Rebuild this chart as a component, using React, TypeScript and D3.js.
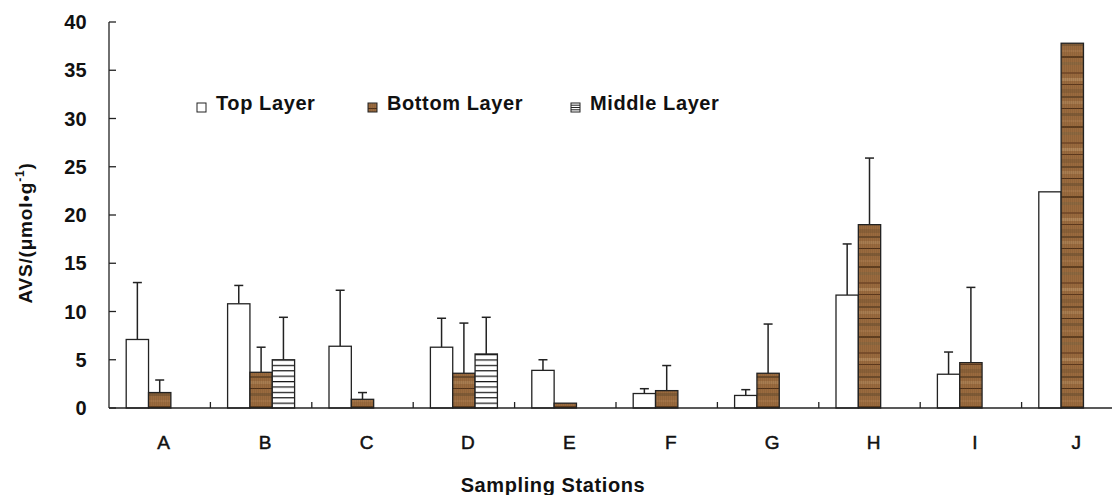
import { useRef, useEffect } from "react";
import * as d3 from "d3";

const categories = ["A", "B", "C", "D", "E", "F", "G", "H", "I", "J"];
const seriesNames = ["Top Layer", "Bottom Layer", "Middle Layer"];
const topLayer = [7.1, 10.8, 6.4, 6.3, 3.9, 1.5, 1.3, 11.7, 3.5, 22.4];
const topErr = [5.9, 1.9, 5.8, 3.0, 1.1, 0.5, 0.6, 5.3, 2.3, null];
const bottomLayer = [1.6, 3.7, 0.9, 3.6, 0.5, 1.8, 3.6, 19.0, 4.7, 37.8];
const bottomErr = [1.3, 2.6, 0.7, 5.2, null, 2.6, 5.1, 6.9, 7.8, null];
const middleLayer = [null, 5.0, null, 5.6, null, null, null, null, null, null];
const middleErr = [null, 4.4, null, 3.8, null, null, null, null, null, null];
const yTicks = [0, 5, 10, 15, 20, 25, 30, 35, 40];

type Bar = { cat: string; series: string; value: number; err: number | null };

export default function App() {
  const svgRef = useRef<SVGSVGElement>(null);
  const width = 1112;
  const height = 495;

  useEffect(() => {
    if (!svgRef.current) return;
    const svg = d3.select(svgRef.current);
    svg.selectAll("*").remove();

    const font = "'Liberation Sans', Arial, sans-serif";
    const left = 109;
    const right = 1123;
    const top = 22;
    const bottom = 408;

    // patterns
    const defs = svg.append("defs");
    const wood = defs
      .append("pattern")
      .attr("id", "wood")
      .attr("patternUnits", "userSpaceOnUse")
      .attr("width", 6)
      .attr("height", 70);
    wood.append("rect").attr("width", 6).attr("height", 70).attr("fill", "#9a6a3e");
    const streaks: [number, number, string][] = [
      [2, 2, "#7a4e2c"], [8, 3, "#b08458"], [14, 1, "#5a361c"], [19, 4, "#8a6038"],
      [26, 2, "#6b4a2a"], [31, 3, "#a87c50"], [38, 1, "#4e2e16"], [43, 3, "#7e5a36"],
      [50, 2, "#a47448"], [56, 2, "#5e3c1e"], [62, 3, "#8c6840"],
    ];
    streaks.forEach(([y, h, c]) =>
      wood.append("rect").attr("y", y).attr("width", 6).attr("height", h).attr("fill", c)
    );
    for (let i = 0; i < 6; i += 2) {
      wood.append("rect").attr("x", i).attr("y", 0).attr("width", 1).attr("height", 70)
        .attr("fill", "#6a4a2a").attr("opacity", 0.2);
    }

    const stripes = defs
      .append("pattern")
      .attr("id", "stripes")
      .attr("patternUnits", "userSpaceOnUse")
      .attr("width", 8)
      .attr("height", 5.4)
      .attr("y", bottom);
    stripes.append("rect").attr("width", 8).attr("height", 5.4).attr("fill", "#fff");
    stripes.append("rect").attr("y", 0).attr("width", 8).attr("height", 1.2).attr("fill", "#111");

    const fills: Record<string, string> = {
      "Top Layer": "#fff",
      "Bottom Layer": "url(#wood)",
      "Middle Layer": "url(#stripes)",
    };

    // Scales
    const x = d3.scaleBand<string>().domain(categories).range([left, right]).padding(0);
    const xInner = d3
      .scaleBand<string>()
      .domain(seriesNames)
      .range([0, x.bandwidth()])
      .paddingInner(0)
      .paddingOuter(0.77);
    const y = d3.scaleLinear().domain([0, 40]).range([bottom, top]);

    const bars: Bar[] = [];
    categories.forEach((c, i) => {
      bars.push({ cat: c, series: "Top Layer", value: topLayer[i], err: topErr[i] });
      bars.push({ cat: c, series: "Bottom Layer", value: bottomLayer[i], err: bottomErr[i] });
      if (middleLayer[i] != null)
        bars.push({ cat: c, series: "Middle Layer", value: middleLayer[i] as number, err: middleErr[i] });
    });

    const g = svg.append("g");

    // Error bars (drawn first so bars sit on top)
    const eb = bars.filter((d) => d.err != null);
    const cx = (d: Bar) => x(d.cat)! + xInner(d.series)! + xInner.bandwidth() / 2;
    g.selectAll("line.err")
      .data(eb)
      .join("line")
      .attr("x1", cx)
      .attr("x2", cx)
      .attr("y1", (d) => y(d.value))
      .attr("y2", (d) => y(d.value + (d.err as number)))
      .attr("stroke", "#222")
      .attr("stroke-width", 1.5);
    g.selectAll("line.cap")
      .data(eb)
      .join("line")
      .attr("x1", (d) => cx(d) - 4.5)
      .attr("x2", (d) => cx(d) + 4.5)
      .attr("y1", (d) => y(d.value + (d.err as number)))
      .attr("y2", (d) => y(d.value + (d.err as number)))
      .attr("stroke", "#222")
      .attr("stroke-width", 1.5);

    // Bars
    g.selectAll("rect.bar")
      .data(bars)
      .join("rect")
      .attr("x", (d) => x(d.cat)! + xInner(d.series)!)
      .attr("y", (d) => y(d.value))
      .attr("width", xInner.bandwidth())
      .attr("height", (d) => bottom - y(d.value))
      .attr("fill", (d) => fills[d.series])
      .attr("stroke", "#222")
      .attr("stroke-width", 1.3);

    const textStyle = (sel: any, size: number, spacing = 0.4) =>
      sel
        .style("font-family", font)
        .style("font-size", `${size}px`)
        .style("font-weight", "bold")
        .style("letter-spacing", `${spacing}px`)
        .attr("fill", "#111");

    // Axes
    const yAxis = g.append("g").attr("transform", `translate(${left},0)`);
    yAxis.append("line").attr("y1", top).attr("y2", bottom).attr("stroke", "#222").attr("stroke-width", 1.3);
    yAxis.selectAll("line.t").data(yTicks).join("line")
      .attr("x1", 0).attr("x2", 7)
      .attr("y1", (d) => y(d)).attr("y2", (d) => y(d))
      .attr("stroke", "#222").attr("stroke-width", 1.3);
    textStyle(
      yAxis.selectAll("text").data(yTicks).join("text")
        .attr("x", -22).attr("y", (d) => y(d)).attr("dy", "0.36em")
        .attr("text-anchor", "end"),
      20, 0.3
    ).text((d: number) => d);

    const xAxis = g.append("g");
    xAxis.append("line").attr("x1", left).attr("x2", right).attr("y1", bottom).attr("y2", bottom)
      .attr("stroke", "#222").attr("stroke-width", 1.3);
    xAxis.selectAll("line.t").data(categories).join("line")
      .attr("x1", (d) => x(d)! + x.bandwidth()).attr("x2", (d) => x(d)! + x.bandwidth())
      .attr("y1", bottom).attr("y2", bottom - 6)
      .attr("stroke", "#222").attr("stroke-width", 1.3);
    textStyle(
      xAxis.selectAll("text").data(categories).join("text")
        .attr("x", (d) => x(d)! + x.bandwidth() / 2 + 4).attr("y", 449)
        .attr("text-anchor", "middle"),
      19, 0
    ).style("font-weight", "normal").style("stroke", "#111").style("stroke-width", 0.5)
      .text((d: string) => d);

    // Axis titles
    textStyle(
      svg.append("text").attr("x", 553).attr("y", 492).attr("text-anchor", "middle"),
      20, 0.6
    ).text("Sampling Stations");
    const yt = textStyle(
      svg.append("text")
        .attr("transform", "translate(32,233) rotate(-90)")
        .attr("text-anchor", "middle"),
      19, 0.8
    );
    yt.append("tspan").text("AVS/(μmol•g");
    yt.append("tspan").attr("dy", -8).style("font-size", "12px").text("-1");
    yt.append("tspan").attr("dy", 8).text(")");

    // Legend
    const legendX = [197, 368, 571];
    const lg = svg.append("g");
    seriesNames.forEach((s, i) => {
      const item = lg.append("g").attr("transform", `translate(${legendX[i]},0)`);
      item.append("rect").attr("x", 0).attr("y", 103).attr("width", 9).attr("height", 9)
        .attr("fill", s === "Middle Layer" ? "#fff" : fills[s]).attr("stroke", "#222").attr("stroke-width", 1);
      if (s === "Middle Layer") {
        [105.2, 107.5, 109.8].forEach((ly) =>
          item.append("line").attr("x1", 0).attr("x2", 9).attr("y1", ly).attr("y2", ly)
            .attr("stroke", "#222").attr("stroke-width", 1)
        );
      }
      textStyle(item.append("text").attr("x", 19).attr("y", 110), 20, 0.6).text(s);
    });
  }, []);

  return (
    <svg
      ref={svgRef}
      width={width}
      height={height}
      style={{ position: "absolute", left: 0, top: 0, background: "#fff" }}
    />
  );
}
